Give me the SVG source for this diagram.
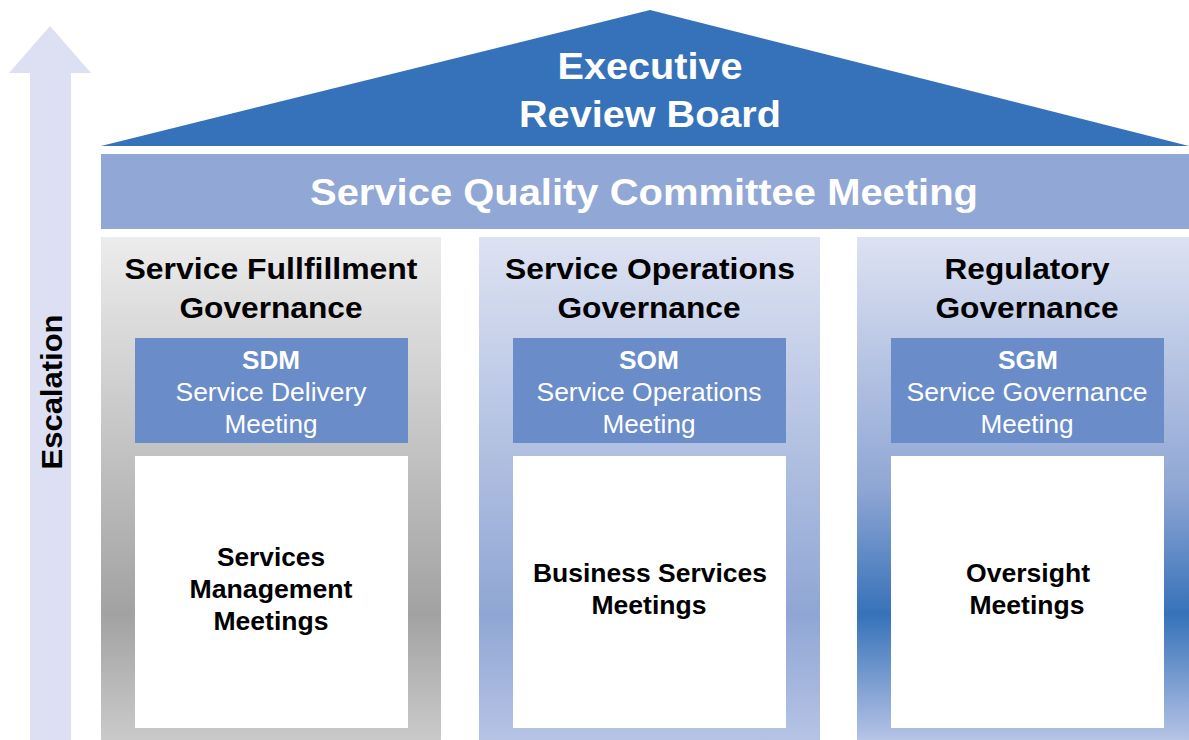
<svg xmlns="http://www.w3.org/2000/svg" width="1189" height="740" viewBox="0 0 1189 740">
<style>
text{font-family:"Liberation Sans",Arial,sans-serif;text-anchor:middle}
.w{fill:#ffffff;font-weight:bold}
.t{fill:#000;font-weight:bold;font-size:30px}
.ab{fill:#fff;font-weight:bold;font-size:26px}
.an{fill:#fff;font-size:25px}
.m{fill:#000;font-weight:bold;font-size:25px}
.blue{fill:#6a8cc8}
.white{fill:#fff}
</style>
<defs>
<linearGradient id="g1" x1="0" y1="237" x2="0" y2="740" gradientUnits="userSpaceOnUse">
<stop offset="0" stop-color="#ececec"/><stop offset="0.75" stop-color="#a2a2a2"/><stop offset="1" stop-color="#cacaca"/>
</linearGradient>
<linearGradient id="g2" x1="0" y1="237" x2="0" y2="740" gradientUnits="userSpaceOnUse">
<stop offset="0" stop-color="#dde2f2"/><stop offset="0.75" stop-color="#8fa6d4"/><stop offset="1" stop-color="#b6c3e5"/>
</linearGradient>
<linearGradient id="g3" x1="0" y1="237" x2="0" y2="740" gradientUnits="userSpaceOnUse">
<stop offset="0" stop-color="#dde2f2"/><stop offset="0.5" stop-color="#8fa6d4"/><stop offset="0.75" stop-color="#3672b9"/><stop offset="1" stop-color="#b6c3e5"/>
</linearGradient>
</defs>
<g id="escalation">
<polygon points="50,26 91,73 71,73 71,740 30,740 30,73 9,73" fill="#dce0f2"/>
<text transform="translate(62,392) rotate(-90)" style="font-weight:bold;font-size:30px;fill:#000" textLength="155" lengthAdjust="spacingAndGlyphs">Escalation</text>
</g>
<g id="roof">
<polygon points="101,146 650,10 1189,146" fill="#3672b9"/>
<text class="w" x="650" y="79" font-size="37" textLength="185" lengthAdjust="spacingAndGlyphs">Executive</text>
<text class="w" x="650" y="127" font-size="37" textLength="262" lengthAdjust="spacingAndGlyphs">Review Board</text>
</g>
<g id="committee">
<rect x="101" y="154" width="1088" height="75" fill="#91a7d5"/>
<text class="w" x="644" y="205" font-size="37" textLength="668" lengthAdjust="spacingAndGlyphs">Service Quality Committee Meeting</text>
</g>
<g id="pillar1">
<rect x="101" y="237" width="340" height="503" fill="url(#g1)"/>
<text class="t" x="271" y="279" textLength="293" lengthAdjust="spacingAndGlyphs">Service Fullfillment</text>
<text class="t" x="271" y="318" textLength="183" lengthAdjust="spacingAndGlyphs">Governance</text>
<rect class="blue" x="135" y="338" width="273" height="105"/>
<text class="ab" x="271" y="369" textLength="58" lengthAdjust="spacingAndGlyphs">SDM</text>
<text class="an" x="271" y="401" textLength="191" lengthAdjust="spacingAndGlyphs">Service Delivery</text>
<text class="an" x="271" y="433" textLength="93" lengthAdjust="spacingAndGlyphs">Meeting</text>
<rect class="white" x="135" y="456" width="273" height="272"/>
<text class="m" x="271" y="566" textLength="108" lengthAdjust="spacingAndGlyphs">Services</text>
<text class="m" x="271" y="598" textLength="163" lengthAdjust="spacingAndGlyphs">Management</text>
<text class="m" x="271" y="630" textLength="115" lengthAdjust="spacingAndGlyphs">Meetings</text>
</g>
<g id="pillar2">
<rect x="479" y="237" width="341" height="503" fill="url(#g2)"/>
<text class="t" x="650" y="279" textLength="290" lengthAdjust="spacingAndGlyphs">Service Operations</text>
<text class="t" x="649" y="318" textLength="183" lengthAdjust="spacingAndGlyphs">Governance</text>
<rect class="blue" x="513" y="338" width="273" height="105"/>
<text class="ab" x="649" y="369" textLength="60" lengthAdjust="spacingAndGlyphs">SOM</text>
<text class="an" x="649" y="401" textLength="225" lengthAdjust="spacingAndGlyphs">Service Operations</text>
<text class="an" x="649" y="433" textLength="93" lengthAdjust="spacingAndGlyphs">Meeting</text>
<rect class="white" x="513" y="456" width="273" height="272"/>
<text class="m" x="650" y="582" textLength="234" lengthAdjust="spacingAndGlyphs">Business Services</text>
<text class="m" x="649" y="614" textLength="115" lengthAdjust="spacingAndGlyphs">Meetings</text>
</g>
<g id="pillar3">
<rect x="857" y="237" width="332" height="503" fill="url(#g3)"/>
<text class="t" x="1027" y="279" textLength="165" lengthAdjust="spacingAndGlyphs">Regulatory</text>
<text class="t" x="1027" y="318" textLength="183" lengthAdjust="spacingAndGlyphs">Governance</text>
<rect class="blue" x="891" y="338" width="273" height="105"/>
<text class="ab" x="1028" y="369" textLength="60" lengthAdjust="spacingAndGlyphs">SGM</text>
<text class="an" x="1027" y="401" textLength="241" lengthAdjust="spacingAndGlyphs">Service Governance</text>
<text class="an" x="1027" y="433" textLength="93" lengthAdjust="spacingAndGlyphs">Meeting</text>
<rect class="white" x="891" y="456" width="273" height="272"/>
<text class="m" x="1028" y="582" textLength="124" lengthAdjust="spacingAndGlyphs">Oversight</text>
<text class="m" x="1027" y="614" textLength="115" lengthAdjust="spacingAndGlyphs">Meetings</text>
</g>
<g id="connectors"/>
</svg>
